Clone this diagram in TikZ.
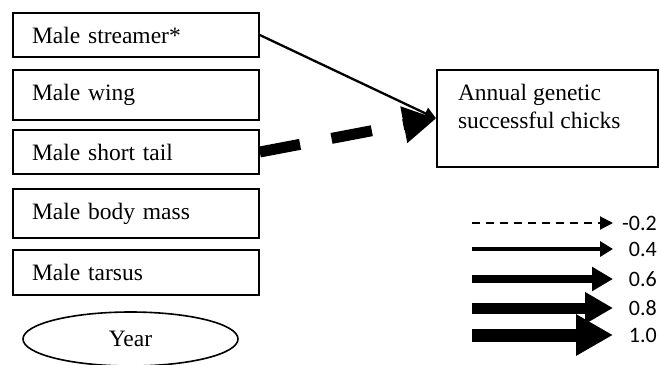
\documentclass[tikz,border=0pt]{standalone}
\usepackage{fontspec}
\setmainfont{Liberation Serif}
\newfontfamily\legendfont{Carlito}
\usetikzlibrary{shapes.geometric,arrows.meta,positioning}
\tikzset{
  trait/.style={draw, line width=1.6pt, text width=208pt, inner xsep=19pt, inner ysep=0pt,
    align=left, font=\fontsize{23.5}{28}\selectfont},
  outcome/.style={draw, line width=1.6pt, inner xsep=21pt, inner ysep=14pt,
    font=\fontsize{23.5}{28}\selectfont},
  legendlbl/.style={anchor=east, inner sep=0pt, font=\legendfont\fontsize{22}{24}\selectfont}
}

\begin{document}
\begin{tikzpicture}[x=1pt, y=-1pt]
    \useasboundingbox (0,0) rectangle (660,364);

    % Male traits
    \foreach \nm/\y/\h/\txt in {streamer/35/44/Male streamer*, wing/95/50/Male wing,
        shorttail/152/44/Male short tail, bodymass/213.5/49/Male body mass, tarsus/272.5/45/Male tarsus} {
      \node[trait, minimum height=\h pt] (\nm) at (136,\y) {\txt};
    }
    \node[draw, ellipse, line width=1.6pt, minimum width=215pt, minimum height=54pt, inner sep=0pt,
      font=\fontsize{23.5}{28}\selectfont] (year) at (130.5,339) {Year};

    \node[outcome] (chicks) at (547.5,118.5) {\parbox[c][69pt][t]{179pt}{Annual genetic\\successful chicks}};

    % Paths
    \draw[line width=2.3pt, -{Triangle[length=12pt, width=12pt]}] (streamer.east) -- (chicks.west);
    \draw[line width=11pt, dash pattern=on 41pt off 32pt, -{Triangle[length=33pt, width=35pt]}]
      (shorttail.east) -- (chicks.west);

    % Legend
    \coordinate (ls1) at (472,223);
    \coordinate (le1) at (613,223);
    \draw[line width=2pt, dash pattern=on 8pt off 6pt, -{Triangle[length=13pt, width=13pt]}] (ls1) -- (le1);
    \node[legendlbl] (lab1) at (657,223) {-0.2};
    \foreach \i/\y/\w/\hl/\hw/\lab in {2/249/4/13/15/0.4, 3/279/8/21/23/0.6,
        4/308/11/28/30/0.8, 5/335/13/37/39/1.0} {
      \coordinate (ls\i) at (472,\y);
      \coordinate (le\i) at (613,\y);
      \draw[line width=\w pt, -{Triangle[length=\hl pt, width=\hw pt]}] (ls\i) -- (le\i);
      \node[legendlbl] (lab\i) at (657,\y) {\lab};
    }
  \end{tikzpicture}
\end{document}
